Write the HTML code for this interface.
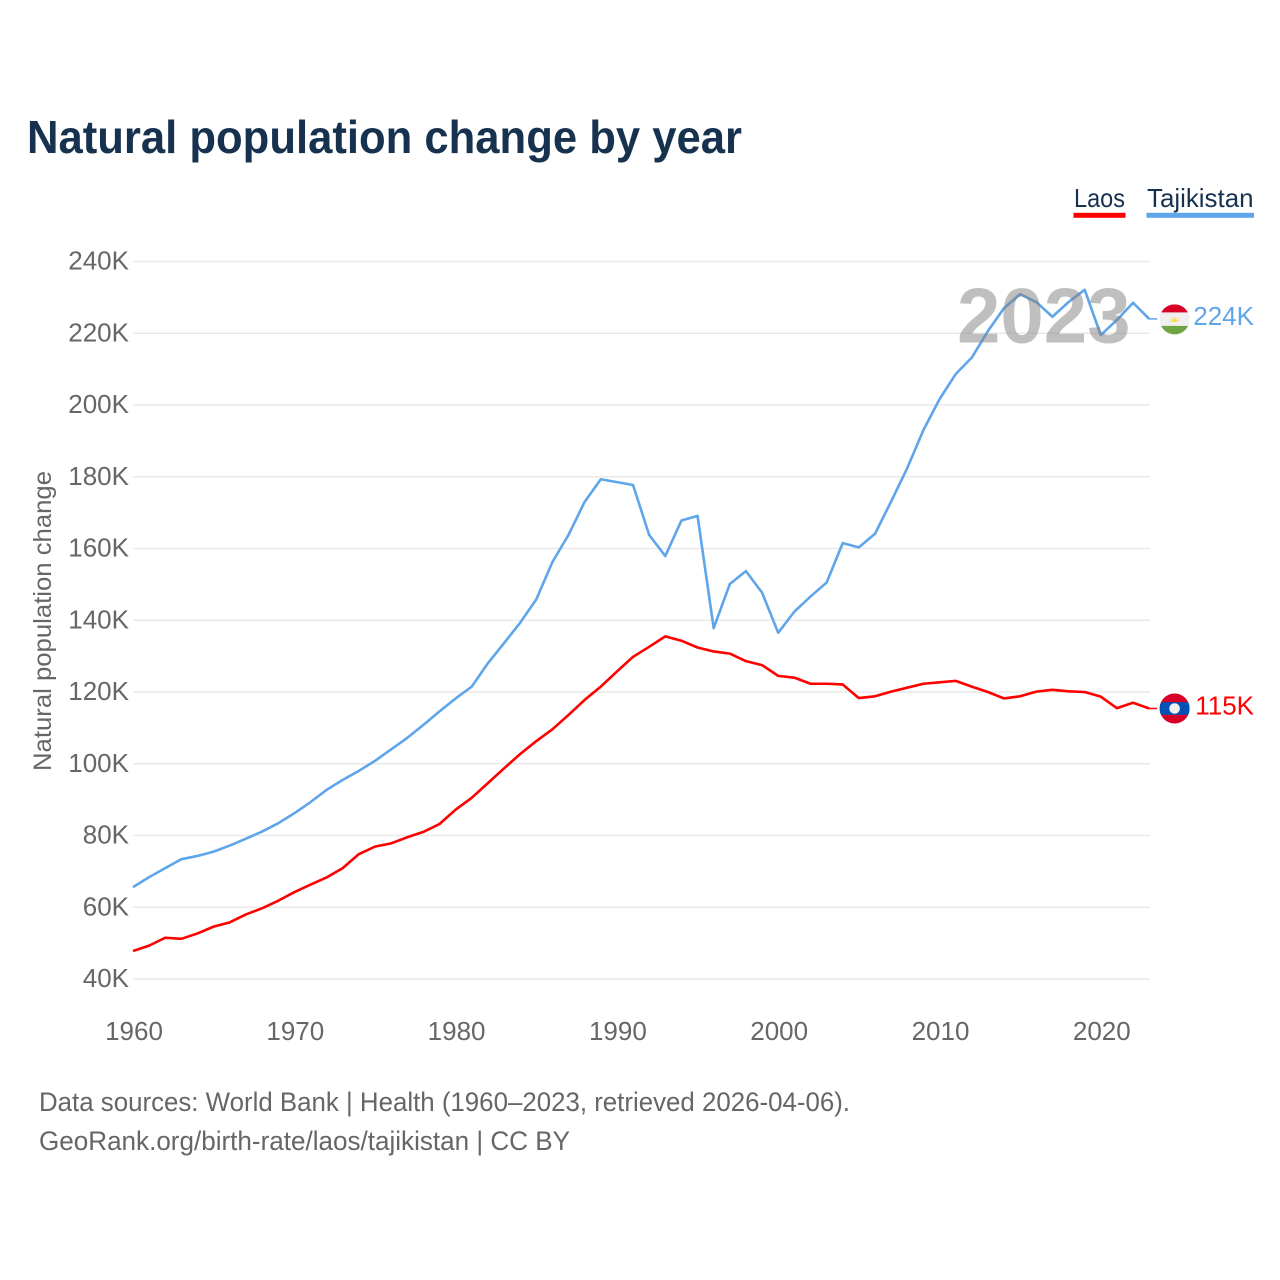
<!DOCTYPE html>
<html lang="en">
<head>
<meta charset="utf-8">
<title>Natural population change by year</title>
<style>
html,body{margin:0;padding:0;background:#fff;}
svg{display:block;font-family:"Liberation Sans",sans-serif;}
</style>
</head>
<body>
<svg id="chart" xmlns="http://www.w3.org/2000/svg" width="1280" height="1280" viewBox="0 0 1280 1280">
  <rect x="0" y="0" width="1280" height="1280" fill="#fff"/>
  <text x="27" y="153" font-size="46" font-weight="700" fill="#17324f" textLength="715" lengthAdjust="spacingAndGlyphs">Natural population change by year</text>
  <g>
    <g>
      <text x="1074" y="207" font-size="26" fill="#17324f" textLength="51" lengthAdjust="spacingAndGlyphs">Laos</text>
      <rect x="1073.5" y="212.8" width="52" height="5" fill="#ff0000"/>
    </g>
    <g>
      <text x="1147" y="207" font-size="26" fill="#17324f" textLength="106.5" lengthAdjust="spacingAndGlyphs">Tajikistan</text>
      <rect x="1146.5" y="212.8" width="107.5" height="5" fill="#5fa5ea"/>
    </g>
  </g>
  <g id="grid"></g>
  <g id="y-ticks"></g>
  <g id="x-ticks"></g>
  <text transform="translate(51 621) rotate(-90)" text-anchor="middle" font-size="25" fill="#666" textLength="300" lengthAdjust="spacingAndGlyphs">Natural population change</text>
  <g id="series"></g>
  <text x="957" y="342.5" font-size="78" font-weight="700" fill="#808080" fill-opacity="0.5">2023</text>
  <g id="end-markers"></g>
  <text x="39" y="1111" font-size="27" fill="#666" textLength="811" lengthAdjust="spacingAndGlyphs">Data sources: World Bank | Health (1960–2023, retrieved 2026-04-06).</text>
  <text x="39" y="1150" font-size="27" fill="#666" textLength="531" lengthAdjust="spacingAndGlyphs">GeoRank.org/birth-rate/laos/tajikistan | CC BY</text>
</svg>
<script>
const startYear = 1960;
const laosValues = [47.8,49.3,51.5,51.2,52.7,54.6,55.8,58.0,59.7,61.8,64.2,66.3,68.3,70.9,74.8,76.9,77.8,79.5,81.0,83.2,87.2,90.5,94.6,98.7,102.7,106.3,109.6,113.6,117.8,121.5,125.7,129.8,132.6,135.5,134.3,132.4,131.3,130.7,128.6,127.5,124.5,124.0,122.3,122.3,122.1,118.3,118.8,120.1,121.2,122.3,122.7,123.1,121.5,120.0,118.2,118.8,120.1,120.6,120.2,120.0,118.7,115.5,117.0,115.4];
const tajikistanValues = [65.6,68.4,70.9,73.4,74.3,75.5,77.2,79.1,81.1,83.4,86.2,89.3,92.7,95.5,98.0,100.8,104.0,107.2,110.8,114.6,118.2,121.5,128.0,133.6,139.3,145.8,156.2,163.8,173.0,179.3,178.5,177.7,163.8,157.9,167.8,169.1,137.8,150.1,153.7,147.7,136.5,142.4,146.6,150.5,161.5,160.3,164.1,173.1,182.4,193.0,201.6,208.6,213.2,220.6,227.0,230.9,228.7,224.6,228.7,232.1,219.5,223.7,228.5,224.0];
const yTickValues = [40,60,80,100,120,140,160,180,200,220,240];
const xTickYears = [1960,1970,1980,1990,2000,2010,2020];

const SVG_NS = 'http://www.w3.org/2000/svg';
function xScale(year){ return 133 + (year - 1960) * 16.13; }
function yScale(k){ return 979 - (k - 40) * 3.5875; }
function make(tag, attrs){
  const el = document.createElementNS(SVG_NS, tag);
  for (const key in attrs) el.setAttribute(key, attrs[key]);
  return el;
}
const grid = document.getElementById('grid');
const yTicks = document.getElementById('y-ticks');
const xTicks = document.getElementById('x-ticks');
const seriesGroup = document.getElementById('series');
const endMarkers = document.getElementById('end-markers');

yTickValues.forEach(function(v){
  const line = make('line', {x1:133, x2:1150, y1:yScale(v), y2:yScale(v), stroke:'#e9e9e9', 'stroke-width':1.5});
  
  
  grid.appendChild(line);
  const label = make('text', {x:129, y:yScale(v)+8, 'text-anchor':'end', 'font-size':26, fill:'#666'});
  
  
  label.textContent = v + 'K';
  yTicks.appendChild(label);
});
xTickYears.forEach(function(y){
  const label = make('text', {x:xScale(y)+1, y:1040, 'text-anchor':'middle', 'font-size':26, fill:'#666'});
  
  
  label.textContent = String(y);
  xTicks.appendChild(label);
});
function linePath(values){
  return values.map(function(v,i){
    return (i ? 'L' : 'M') + xScale(startYear + i).toFixed(2) + ' ' + yScale(v).toFixed(2);
  }).join(' ');
}
function connector(values){
  const last = values[values.length-1];
  const lx = xScale(startYear + values.length - 1);
  return 'M' + lx.toFixed(2) + ' ' + yScale(last).toFixed(2) + ' H' + (lx + 8).toFixed(2);
}

const laosLine = make('path', {d:linePath(laosValues), fill:'none', stroke:'#ff0000', 'stroke-width':2.6, 'stroke-linejoin':'round'});


seriesGroup.appendChild(laosLine);

const laosLead = make('path', {d:connector(laosValues), fill:'none', stroke:'#ff0000', 'stroke-width':1.5});


seriesGroup.appendChild(laosLead);

const tajikLine = make('path', {d:linePath(tajikistanValues), fill:'none', stroke:'#5fa5ea', 'stroke-width':2.6, 'stroke-linejoin':'round'});


seriesGroup.appendChild(tajikLine);

const tajikLead = make('path', {d:connector(tajikistanValues), fill:'none', stroke:'#5fa5ea', 'stroke-width':1.5});


seriesGroup.appendChild(tajikLead);

const fx = 1174.6;
const defs = make('defs', {});
const tjClip = make('clipPath', {id:'tj-clip'});
tjClip.appendChild(make('circle', {cx:0, cy:0, r:15}));
const laClip = make('clipPath', {id:'la-clip'});
laClip.appendChild(make('circle', {cx:0, cy:0, r:15}));
defs.appendChild(tjClip);
defs.appendChild(laClip);
endMarkers.appendChild(defs);

// Tajikistan marker
const tjY = yScale(tajikistanValues[tajikistanValues.length-1]) + 0.5;
const tjFlag = make('g', {transform:'translate(' + fx + ' ' + tjY + ')', 'clip-path':'url(#tj-clip)'});


tjFlag.appendChild(make('rect', {x:-15, y:-15, width:30, height:30, fill:'#f0f0f0'}));
tjFlag.appendChild(make('rect', {x:-15, y:-15, width:30, height:8, fill:'#d80027'}));
tjFlag.appendChild(make('rect', {x:-15, y:6.5, width:30, height:9, fill:'#6da544'}));
tjFlag.appendChild(make('path', {d:'M-3 2.5 L-3 -0.5 L-1.5 0.5 L0 -1.5 L1.5 0.5 L3 -0.5 L3 2.5 Z', fill:'#ffda44'}));
tjFlag.appendChild(make('path', {d:'M-5.5 2 A5.8 5.8 0 0 1 5.5 2', fill:'none', stroke:'#ffda44', 'stroke-width':1, 'stroke-dasharray':'1 1.6'}));
endMarkers.appendChild(tjFlag);

const tjLabel = make('text', {x:1254, y:tjY + 5.5, 'text-anchor':'end', 'font-size':26, fill:'#5fa5ea'});


tjLabel.textContent = Math.round(tajikistanValues[tajikistanValues.length-1]) + 'K';
endMarkers.appendChild(tjLabel);

// Laos marker
const laY = yScale(laosValues[laosValues.length-1]);
const laFlag = make('g', {transform:'translate(' + fx + ' ' + laY + ')', 'clip-path':'url(#la-clip)'});


laFlag.appendChild(make('rect', {x:-15, y:-15, width:30, height:30, fill:'#d80027'}));
laFlag.appendChild(make('rect', {x:-15, y:-6.3, width:30, height:12.6, fill:'#0052b4'}));
laFlag.appendChild(make('circle', {cx:0, cy:0, r:5.3, fill:'#f0f0f0'}));
endMarkers.appendChild(laFlag);

const laLabel = make('text', {x:1254, y:laY + 6, 'text-anchor':'end', 'font-size':26, fill:'#ff0000'});


laLabel.textContent = Math.round(laosValues[laosValues.length-1]) + 'K';
endMarkers.appendChild(laLabel);
</script>
</body>
</html>
